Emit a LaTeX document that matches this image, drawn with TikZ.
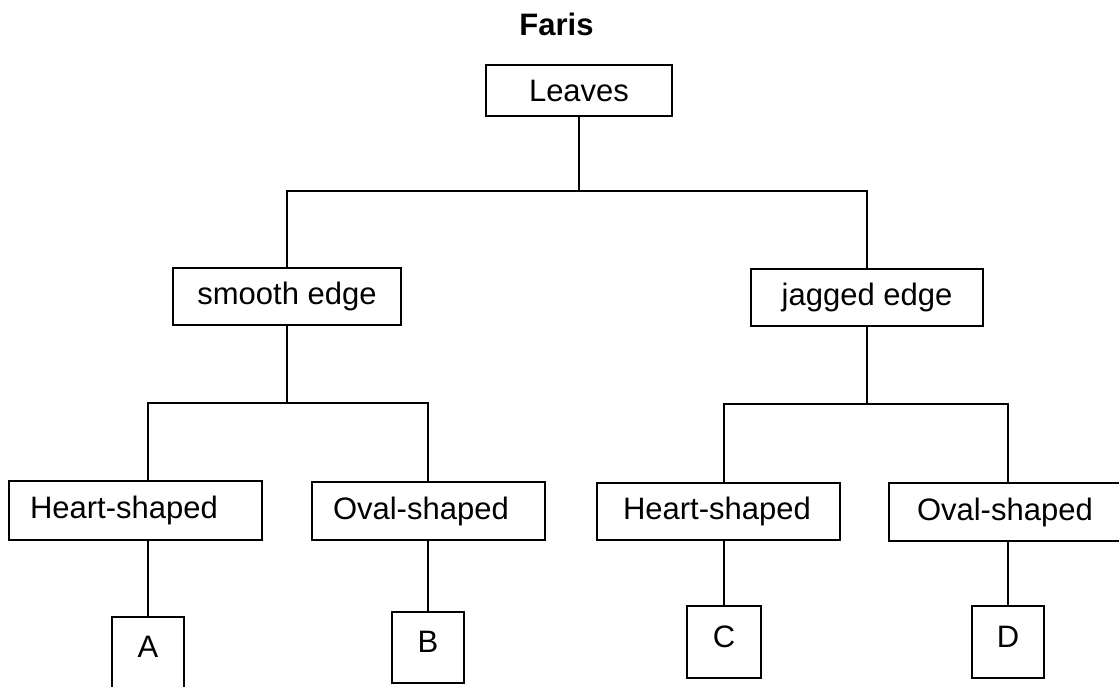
\documentclass[tikz,border=0pt]{standalone}
\usepackage{fontspec}
\setmainfont{Liberation Sans}
\begin{document}
\begin{tikzpicture}[x=1pt,y=-1pt,
  every node/.style={font=\fontsize{31}{37}\selectfont},
  box/.style={draw, line width=1.4pt, inner sep=0pt},
  lbox/.style={box, align=left, text height=23pt, text depth=6.5pt},
  leaf/.style={box, minimum width=72pt, minimum height=71pt, text height=22pt, text depth=12pt},
  conn/.style={line width=1.4pt}]
\useasboundingbox (0,0) rectangle (1119,686);
% title
\node[font=\fontsize{31}{37}\selectfont\bfseries, anchor=base] (title) at (556.5,35) {Faris};
% level 1
\node[box, minimum width=186pt, minimum height=51pt] (leaves) at (579,90.5) {Leaves};
% level 2
\node[box, minimum width=228pt, minimum height=57pt] (smooth) at (287,296.5) {smooth edge};
\node[box, minimum width=232pt, minimum height=57pt] (jagged) at (867,297.5) {jagged edge};
% level 3
\node[lbox, minimum height=59pt, text width=211pt, inner xsep=21pt] (h1) at (135.5,510.5) {Heart-shaped};
\node[lbox, minimum height=58pt, text width=191pt, inner xsep=21pt] (o1) at (428.5,511) {Oval-shaped};
\node[lbox, minimum height=57pt, text width=191pt, inner xsep=26pt] (h2) at (718.5,511.5) {Heart-shaped};
\node[lbox, minimum height=58pt, text width=179pt, inner xsep=28pt] (o2) at (1006.5,512) {Oval-shaped};
% leaves
\node[leaf] (a) at (148,652.5) {A};
\node[leaf] (b) at (428,647.5) {B};
\node[leaf, minimum width=74pt, minimum height=72pt] (c) at (724,642) {C};
\node[leaf, minimum height=72pt] (d) at (1008,642) {D};
% bus points
\coordinate (bus1) at (579,191);
\coordinate (bus2) at (287,403);
\coordinate (bus3) at (867,404);
% connectors
\draw[conn] (leaves.south) -- (bus1);
\draw[conn] (smooth.north) |- (bus1) -| (jagged.north);
\draw[conn] (smooth.south) -- (bus2);
\draw[conn] (h1.north -| a.north) |- (bus2) -| (o1.north -| b.north);
\draw[conn] (jagged.south) -- (bus3);
\draw[conn] (h2.north -| c.north) |- (bus3) -| (o2.north -| d.north);
\draw[conn] (h1.south -| a.north) -- (a.north);
\draw[conn] (o1.south -| b.north) -- (b.north);
\draw[conn] (h2.south -| c.north) -- (c.north);
\draw[conn] (o2.south -| d.north) -- (d.north);
\end{tikzpicture}
\end{document}
